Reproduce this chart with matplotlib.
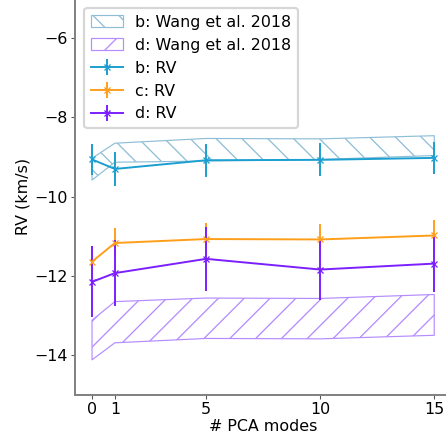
import matplotlib
matplotlib.use('Agg')
import matplotlib.pyplot as plt
import numpy as np

# PCA modes on x axis
n_modes = [0, 1, 5, 10, 15]

# RV results (km/s) and errors
rv_b = [-9.06, -9.30, -9.08, -9.07, -9.02]
err_b = [0.40, 0.42, 0.42, 0.42, 0.41]
rv_c = [-11.64, -11.17, -11.07, -11.08, -10.98]
err_c = [0.40, 0.38, 0.40, 0.39, 0.40]
rv_d = [-12.15, -11.93, -11.57, -11.84, -11.69]
err_d = [0.90, 0.83, 0.80, 0.78, 0.72]

# Wang et al. 2018 ranges
wang_b_lo = [-9.58, -9.13, -9.10, -9.06, -8.96]
wang_b_hi = [-9.03, -8.65, -8.53, -8.54, -8.46]
wang_d_lo = [-14.12, -13.69, -13.58, -13.59, -13.50]
wang_d_hi = [-13.12, -12.65, -12.56, -12.57, -12.47]

DPI = 155
FS = 7.4

col_b = '#1b9fd0'
col_c = '#ff9e1b'
col_d = '#7b1fff'
col_wb = '#8fbfd6'
col_wd = '#b48cff'

plt.rcParams['font.size'] = FS
plt.rcParams['hatch.linewidth'] = 0.6

fig = plt.figure(figsize=(446 / DPI, 440 / DPI), dpi=DPI)
ax = fig.add_axes([0.168, 0.103, 0.844, 0.9])

# literature ranges as hatched bands
ax.fill_between(n_modes, wang_b_lo, wang_b_hi, facecolor='none', edgecolor=col_wb,
                hatch='\\\\', linewidth=0.55, label='b: Wang et al. 2018')
ax.fill_between(n_modes, wang_d_lo, wang_d_hi, facecolor='none', edgecolor=col_wd,
                hatch='//', linewidth=0.55, label='d: Wang et al. 2018')

# our RV measurements
ax.errorbar(n_modes, rv_b, yerr=err_b, color=col_b, marker='x', ms=2.5, mew=0.6,
            lw=0.9, elinewidth=0.9, label='b: RV')
ax.errorbar(n_modes, rv_c, yerr=err_c, color=col_c, marker='x', ms=2.5, mew=0.6,
            lw=0.9, elinewidth=0.9, label='c: RV')
ax.errorbar(n_modes, rv_d, yerr=err_d, color=col_d, marker='x', ms=2.5, mew=0.6,
            lw=0.9, elinewidth=0.9, label='d: RV')

ax.set_xlim(-0.75, 15.75)
ax.set_ylim(-15, -5)
ax.set_xticks(n_modes)
ax.set_yticks([-14, -12, -10, -8, -6])
ax.set_xlabel('# PCA modes', labelpad=1)
ax.set_ylabel('RV (km/s)', labelpad=2)

for sp in ax.spines.values():
    sp.set_color('#808080')
    sp.set_linewidth(0.9)
ax.tick_params(length=1.7, width=0.5, color='#555555', pad=1.5)

ax.legend(loc='upper left', borderaxespad=0.6)

fig.savefig('out.png', dpi=DPI)
